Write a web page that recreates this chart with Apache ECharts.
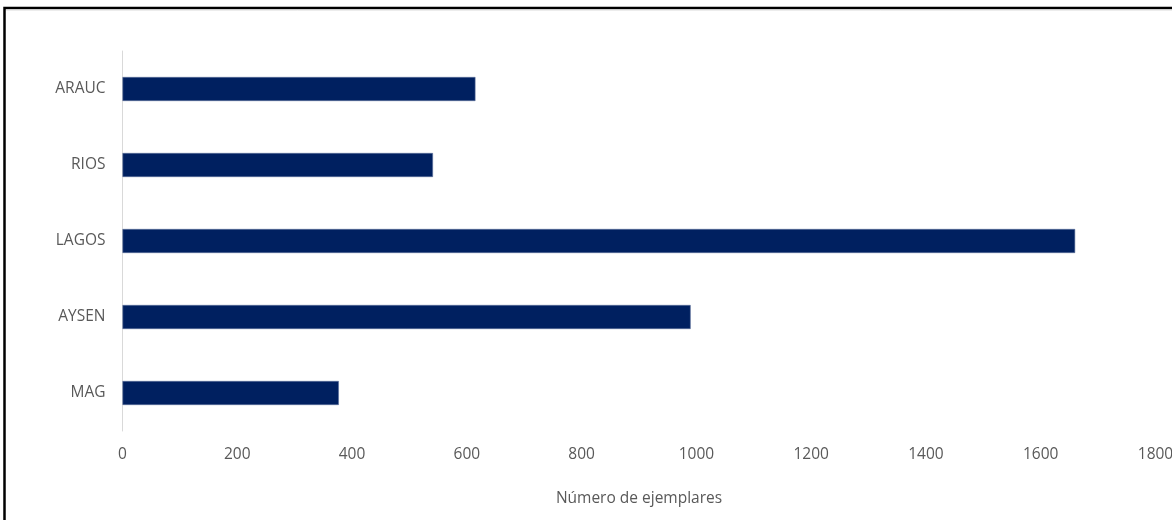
<!DOCTYPE html>
<html>
<head>
<meta charset="utf-8">
<script src="https://cdn.jsdelivr.net/npm/echarts@6/dist/echarts.min.js"></script>
<style>
  html, body { margin: 0; padding: 0; background: #fff; }
  #chart { width: 1172px; height: 520px; }
</style>
</head>
<body>
<div id="chart"></div>
<script>
// Regiones (de abajo hacia arriba en el eje vertical)
const regiones = ['MAG', 'AYSEN', 'LAGOS', 'RIOS', 'ARAUC'];
// Número de ejemplares por región
const ejemplares = [377, 990, 1660, 541, 615];
// Eje horizontal
const ejeMin = 0;
const ejeMax = 1800;
const ejeIntervalo = 200;
const tituloEje = 'Número de ejemplares';

const textColor = '#595959';
const fontFamily = '"Open Sans", "Liberation Sans", sans-serif';

const chart = echarts.init(document.getElementById('chart'), null, { renderer: 'canvas' });
chart.setOption({
  backgroundColor: '#ffffff',
  animation: false,
  grid: {
    left: 122.5, right: 16.5, top: 51, bottom: 89,
    containLabel: false,
    outerBoundsMode: 'none'
  },
  graphic: [{
    type: 'rect',
    shape: { x: 4.5, y: 8, width: 1300, height: 700 },
    style: { fill: 'none', stroke: '#000000', lineWidth: 2.5 },
    silent: true,
    z: 100
  }, {
    type: 'line',
    shape: { x1: 6, y1: 10, x2: 1172, y2: 10 },
    style: { stroke: '#d9d9d9', lineWidth: 1 },
    silent: true,
    z: 100
  }],
  xAxis: {
    type: 'value',
    min: ejeMin,
    max: ejeMax,
    interval: ejeIntervalo,
    name: tituloEje,
    nameLocation: 'middle',
    nameGap: 60,
    nameTextStyle: { color: textColor, fontSize: 15.5, fontFamily: fontFamily },
    axisLine: { show: false },
    axisTick: { show: false },
    splitLine: { show: false },
    axisLabel: {
      color: textColor, fontSize: 15.5, fontFamily: fontFamily, margin: 16,
      formatter: function (v) { return String(v); }
    }
  },
  yAxis: {
    type: 'category',
    data: regiones,
    axisLine: { show: true, lineStyle: { color: '#d9d9d9', width: 1 } },
    axisTick: { show: false },
    splitLine: { show: false },
    axisLabel: {
      color: textColor, fontSize: 15.5, fontFamily: fontFamily, margin: 17,
      padding: [4, 0, 0, 0]
    }
  },
  series: [{
    type: 'bar',
    data: ejemplares,
    barWidth: 24,
    itemStyle: { color: '#002060', borderColor: '#5b6f9a', borderWidth: 0.6 }
  }]
});
</script>
</body>
</html>
